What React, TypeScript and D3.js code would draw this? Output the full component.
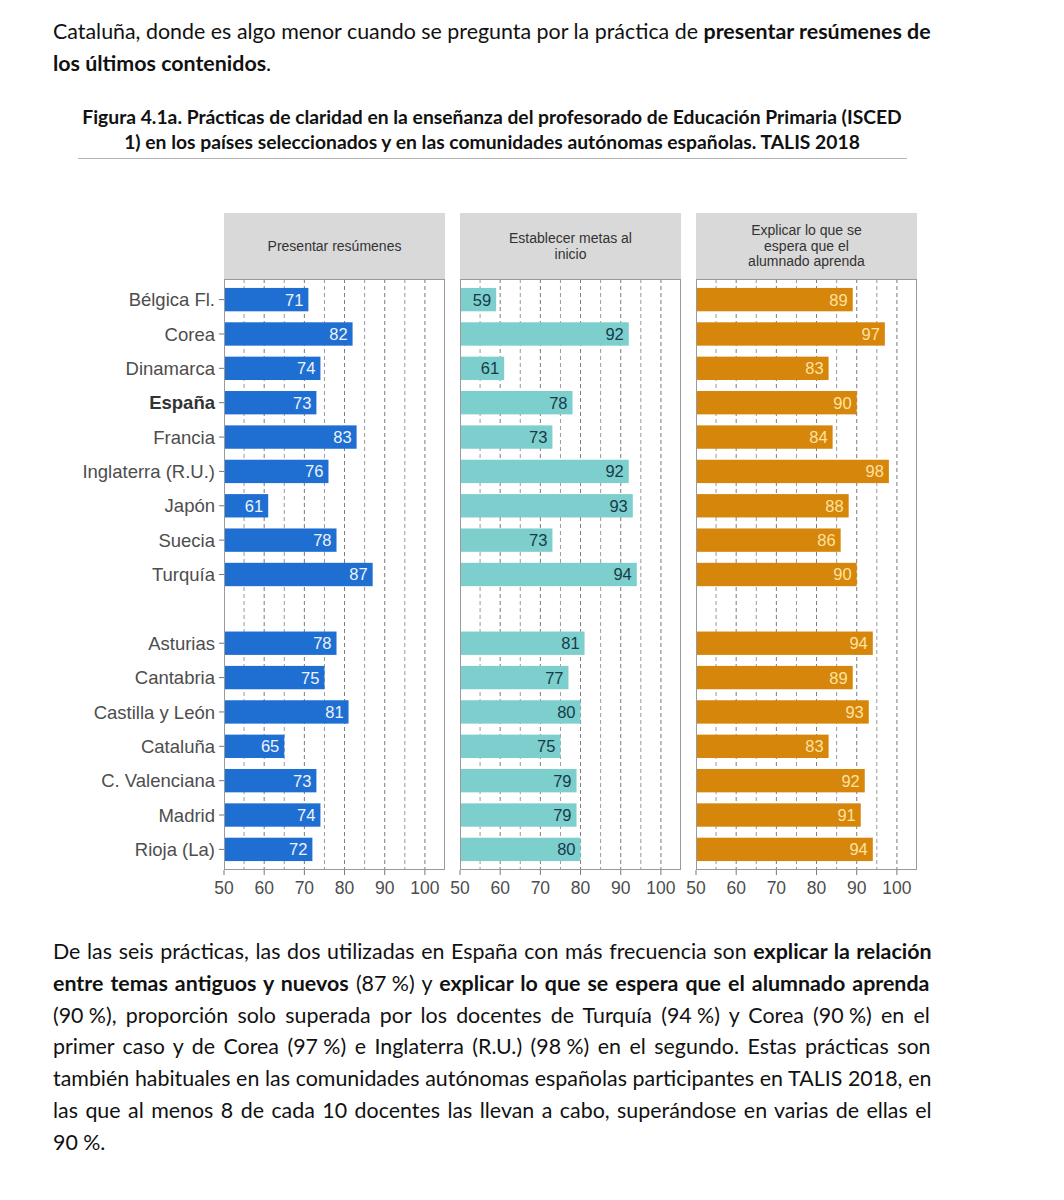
import React, { useMemo } from 'react';
import * as d3 from 'd3';

// filas del gráfico: países seleccionados y comunidades autónomas
const PAISES = ['Bélgica Fl.', 'Corea', 'Dinamarca', 'España', 'Francia', 'Inglaterra (R.U.)', 'Japón', 'Suecia', 'Turquía'];
const CCAA = ['Asturias', 'Cantabria', 'Castilla y León', 'Cataluña', 'C. Valenciana', 'Madrid', 'Rioja (La)'];
const GAP_KEY = '__hueco';

// porcentajes por práctica
const RESUMENES_PAISES = [71, 82, 74, 73, 83, 76, 61, 78, 87];
const RESUMENES_CCAA = [78, 75, 81, 65, 73, 74, 72];
const METAS_PAISES = [59, 92, 61, 78, 73, 92, 93, 73, 94];
const METAS_CCAA = [81, 77, 80, 75, 79, 79, 80];
const EXPLICAR_PAISES = [89, 97, 83, 90, 84, 98, 88, 86, 90];
const EXPLICAR_CCAA = [94, 89, 93, 83, 92, 91, 94];

const FACET_TITLES = [
  ['Presentar resúmenes'],
  ['Establecer metas al', 'inicio'],
  ['Explicar lo que se', 'espera que el', 'alumnado aprenda'],
];
const X_TICKS = [50, 60, 70, 80, 90, 100];

const BAR_FILL = ['#1f6fd3', '#7ccfcd', '#d5860b'];
const LABEL_FILL = ['#eef3fb', '#183a48', '#ffe2a0'];

// texto del documento
type Seg = { t: string; b?: boolean };
const PARA_TOP: Seg[][] = [
  [{ t: 'Cataluña, donde es algo menor cuando se pregunta por la práctica de ' }, { t: 'presentar resúmenes de', b: true }],
  [{ t: 'los últimos contenidos', b: true }, { t: '.' }],
];
const PARA_BOTTOM: Seg[][] = [
  [{ t: 'De las seis prácticas, las dos utilizadas en España con más frecuencia son ' }, { t: 'explicar la relación', b: true }],
  [{ t: 'entre temas antiguos y nuevos', b: true }, { t: ' (87\u2005%) y ' }, { t: 'explicar lo que se espera que el alumnado aprenda', b: true }],
  [{ t: '(90\u2005%), proporción solo superada por los docentes de Turquía (94\u2005%) y Corea (90\u2005%) en el' }],
  [{ t: 'primer caso y de Corea (97\u2005%) e Inglaterra (R.U.) (98\u2005%) en el segundo. Estas prácticas son' }],
  [{ t: 'también habituales en las comunidades autónomas españolas participantes en TALIS 2018, en' }],
  [{ t: 'las que al menos 8 de cada 10 docentes las llevan a cabo, superándose en varias de ellas el' }],
  [{ t: '90\u2005%.' }],
];
const TITLE_LINES = [
  'Figura 4.1a. Prácticas de claridad en la enseñanza del profesorado de Educación Primaria (ISCED',
  '1) en los países seleccionados y en las comunidades autónomas españolas. TALIS 2018',
];

const DOC_FONT = 'Lato, "Open Sans", sans-serif';
const CHART_FONT = '"Liberation Sans", Arial, sans-serif';
const TEXT_LEFT = 53;
const TEXT_RIGHT = 932;

let ctx: CanvasRenderingContext2D | null = null;
function measure(segs: Seg[], size: number) {
  if (!ctx) ctx = document.createElement('canvas').getContext('2d');
  let w = 0;
  segs.forEach(s => {
    ctx!.font = `${s.b ? 'bold ' : ''}${size}px ${DOC_FONT}`;
    w += ctx!.measureText(s.t).width;
  });
  return w;
}
const countSpaces = (segs: Seg[]) => segs.reduce((n, s) => n + (s.t.match(/ /g) || []).length, 0);

function Paragraph({ lines, top, step, size }: { lines: Seg[][]; top: number; step: number; size: number }) {
  const target = TEXT_RIGHT - TEXT_LEFT;
  return (
    <g>
      {lines.map((segs, i) => {
        const last = i === lines.length - 1;
        const ws = last ? 0 : (target - measure(segs, size)) / Math.max(1, countSpaces(segs));
        return (
          <text key={i} x={TEXT_LEFT} y={top + i * step} fontSize={size} fontFamily={DOC_FONT}
            fill="#111" style={{ whiteSpace: 'pre', wordSpacing: `${ws}px` }}>
            {segs.map((s, j) => (
              <tspan key={j} fontWeight={s.b ? 'bold' : 'normal'}>{s.t}</tspan>
            ))}
          </text>
        );
      })}
    </g>
  );
}

export default function App() {
  const rowKeys = [...PAISES, GAP_KEY, ...CCAA];
  const series = [
    [...RESUMENES_PAISES, NaN, ...RESUMENES_CCAA],
    [...METAS_PAISES, NaN, ...METAS_CCAA],
    [...EXPLICAR_PAISES, NaN, ...EXPLICAR_CCAA],
  ];

  const { bodySize, titleSize } = useMemo(() => {
    const justified = [...PARA_TOP.slice(0, -1), ...PARA_BOTTOM.slice(0, -1)];
    const base = 20;
    const fit = Math.min(...justified.map(l => (TEXT_RIGHT - TEXT_LEFT) / measure(l, base)));
    const tw = measure([{ t: TITLE_LINES[0], b: true }], 17);
    return { bodySize: base * fit, titleSize: 17 * 820 / tw };
  }, []);

  const panelLeft = 224;
  const panelW = 221;
  const panelStep = 236;
  const stripTop = 213;
  const plotTop = 279;
  const plotBottom = 870;

  const x = d3.scaleLinear().domain([50, 105]).range([0, panelW]);
  const y = d3.scalePoint<string>().domain(rowKeys).range([plotTop, plotBottom]).padding(0.6);
  const barH = y.step() * 0.68;
  const gridVals = d3.range(55, 101, 5);

  return (
    <svg width={1064} height={1200} style={{ position: 'absolute', left: 0, top: 0, background: '#fff' }}>
      <rect width={1064} height={1200} fill="#fff" />
      <Paragraph lines={PARA_TOP} top={39} step={32} size={bodySize} />

      {TITLE_LINES.map((t, i) => (
        <text key={i} x={492} y={124 + i * 25} textAnchor="middle" fontSize={titleSize}
          fontFamily={DOC_FONT} fontWeight="bold" fill="#111">{t}</text>
      ))}
      <line x1={78} x2={907} y1={158.5} y2={158.5} stroke="#b5b5b5" strokeWidth={1.2} />

      <g fontFamily={CHART_FONT}>
        {series.map((vals, p) => {
          const ox = panelLeft + p * panelStep;
          const lines = FACET_TITLES[p];
          const stripMid = (stripTop + plotTop) / 2;
          return (
            <g key={p} transform={`translate(${ox},0)`}>
              <rect x={0} y={stripTop} width={panelW} height={plotTop - stripTop} fill="#d9d9d9" />
              {lines.map((l, i) => (
                <text key={i} x={panelW / 2} y={stripMid + (i - (lines.length - 1) / 2) * 15.5}
                  dy="0.35em" textAnchor="middle" fontSize={14} fill="#333">{l}</text>
              ))}
              <rect x={0} y={plotTop} width={panelW} height={plotBottom - plotTop} fill="#fff" />
              {gridVals.map(g => (
                <line key={g} x1={x(g)} x2={x(g)} y1={plotTop} y2={plotBottom}
                  stroke={g % 10 === 0 ? '#7a7a7a' : '#9a9a9a'} strokeWidth={1}
                  strokeDasharray="4,3" />
              ))}
              {rowKeys.map((k, i) => {
                const v = vals[i];
                if (k === GAP_KEY || isNaN(v)) return null;
                const cy = y(k)!;
                return (
                  <g key={k}>
                    <rect x={x(50)} y={cy - barH / 2} width={x(v) - x(50)} height={barH} fill={BAR_FILL[p]} />
                    <text x={x(v) - 5} y={cy} dy="0.36em" textAnchor="end" fontSize={16.5}
                      fill={LABEL_FILL[p]}>{v}</text>
                  </g>
                );
              })}
              <rect x={0.5} y={plotTop + 0.5} width={panelW - 1} height={plotBottom - plotTop - 1}
                fill="none" stroke="#9a9a9a" strokeWidth={1} />
              {X_TICKS.map(t => (
                <g key={t} transform={`translate(${x(t)},${plotBottom})`}>
                  <line y1={0} y2={5} stroke="#777" />
                  <text y={18} dy="0.36em" textAnchor="middle" fontSize={17.5} fill="#4d4d4d">{t}</text>
                </g>
              ))}
            </g>
          );
        })}

        {rowKeys.filter(k => k !== GAP_KEY).map(k => (
          <g key={k} transform={`translate(${panelLeft},${y(k)})`}>
            <line x1={-5} x2={0} stroke="#777" />
            <text x={-9} dy="0.36em" textAnchor="end" fontSize={18.5}
              fontWeight={k === 'España' ? 'bold' : 'normal'}
              fill={k === 'España' ? '#333' : '#4d4d4d'}>{k}</text>
          </g>
        ))}
      </g>

      <Paragraph lines={PARA_BOTTOM} top={959} step={31.8} size={bodySize} />
    </svg>
  );
}
